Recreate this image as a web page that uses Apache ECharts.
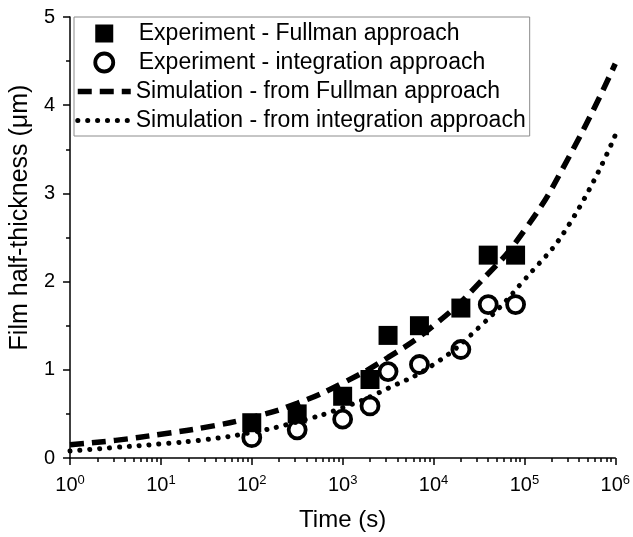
<!DOCTYPE html>
<html>
<head>
<meta charset="utf-8">
<script src="https://cdn.jsdelivr.net/npm/echarts@6/dist/echarts.min.js"></script>
<style>
html,body{margin:0;padding:0;background:#fff;}
#chart{width:633px;height:537px;}
</style>
</head>
<body>
<div id="chart"></div>
<script>
// Experimental points
var expTimes = [100, 316, 1000, 2000, 3160, 7000, 20000, 40000, 80000];
var fullmanExp = [0.40, 0.50, 0.70, 0.89, 1.39, 1.50, 1.70, 2.30, 2.30];
var integrationExp = [0.23, 0.32, 0.44, 0.59, 0.98, 1.06, 1.23, 1.74, 1.74];

// Simulation curves
var simTimes = [1, 3.16, 10, 31.6, 100, 316, 1000, 3160, 10000, 31600, 100000, 316000, 1000000];
var fullmanSim = [0.15, 0.20, 0.27, 0.35, 0.46, 0.62, 0.85, 1.14, 1.50, 1.98, 2.58, 3.43, 4.47];
var integrationSim = [0.08, 0.12, 0.16, 0.21, 0.29, 0.41, 0.57, 0.79, 1.06, 1.48, 2.02, 2.66, 3.66];

// Tick values
var minorTicks = [];
for (var d = 1; d < 1e6; d *= 10) { for (var k = 2; k <= 9; k++) minorTicks.push(d * k); }
var yTicks = [0, 1, 2, 3, 4, 5];

var seriesNames = [
  'Experiment - Fullman approach',
  'Experiment - integration approach',
  'Simulation - from Fullman approach',
  'Simulation - from integration approach'
];

function zip(xs, ys) { return xs.map(function (x, i) { return [x, ys[i]]; }); }

var FONT = '"Liberation Sans", Arial, Helvetica, sans-serif';
var hiddenSym = {color: 'rgba(0,0,0,0)', borderWidth: 0, borderColor: 'rgba(0,0,0,0)', opacity: 0};
var chart = echarts.init(document.getElementById('chart'), null, {renderer: 'canvas'});
chart.setOption({
  animation: false,
  backgroundColor: '#fff',
  grid: {left: 66.5, right: 16.5, top: 17, bottom: 78, containLabel: false},
  legend: {
    orient: 'vertical',
    left: 74, top: 17,
    padding: [5, 4, 4, 1],
    borderColor: '#8c8c8c', borderWidth: 1,
    itemWidth: 53, itemHeight: 18, itemGap: 6,
    symbolKeepAspect: true,
    textStyle: {fontFamily: FONT, fontSize: 23, color: '#000', lineHeight: 22},
    lineStyle: {width: 'inherit'},
    itemStyle: {borderWidth: 'inherit'},
    data: [
      {name: seriesNames[0], icon: 'path://M0,0h10v10h-10z', textStyle: {padding: [0, 0, 0, 3]}},
      {name: seriesNames[1], textStyle: {padding: [0, 0, 0, 3]}},
      {name: seriesNames[2], itemStyle: hiddenSym},
      {name: seriesNames[3], itemStyle: hiddenSym}
    ]
  },
  xAxis: [{
    type: 'log', logBase: 10, min: 1, max: 1e6,
    name: 'Time (s)', nameLocation: 'middle', nameGap: 50,
    nameTextStyle: {fontFamily: FONT, fontSize: 24, color: '#000'},
    axisLine: {show: true, lineStyle: {color: '#000', width: 1.5}},
    axisTick: {show: true, inside: false, length: 7, lineStyle: {color: '#000', width: 1.5}},
    splitLine: {show: false},
    axisLabel: {
      margin: 16, color: '#000', fontFamily: FONT,
      formatter: function (v) { return '{b|10}{s|' + Math.round(Math.log10(v)) + '}'; },
      rich: {
        b: {fontSize: 20, fontFamily: FONT, color: '#000'},
        s: {fontSize: 13, fontFamily: FONT, color: '#000', padding: [0, 0, 9, 0]}
      }
    }
  }, {
    type: 'log', logBase: 10, min: 1, max: 1e6, position: 'bottom', offset: 0,
    axisLine: {show: false},
    axisTick: {show: true, inside: false, length: 4, customValues: minorTicks, lineStyle: {color: '#000', width: 1.5}},
    axisLabel: {show: false},
    splitLine: {show: false}
  }],
  yAxis: {
    type: 'value', min: 0, max: 5, interval: 1,
    name: 'Film half-thickness (\u03bcm)', nameLocation: 'middle', nameGap: 27,
    nameTextStyle: {fontFamily: FONT, fontSize: 25, color: '#000', padding: [0, 0, 0, 40]},
    axisLine: {show: true, lineStyle: {color: '#000', width: 1.5}},
    axisTick: {show: true, inside: false, length: 7, lineStyle: {color: '#000', width: 1.5}},
    minorTick: {show: true, splitNumber: 2, length: 4, lineStyle: {color: '#000', width: 1.5}},
    splitLine: {show: false},
    axisLabel: {margin: 15, fontFamily: FONT, fontSize: 20, color: '#000',
      customValues: yTicks}
  },
  series: [{
    name: seriesNames[0], type: 'scatter', z: 2,
    symbol: 'rect', symbolSize: 19,
    itemStyle: {color: '#000', opacity: 1},
    data: zip(expTimes, fullmanExp)
  }, {
    name: seriesNames[1], type: 'scatter', z: 2,
    symbol: 'circle', symbolSize: 17,
    itemStyle: {color: 'rgba(255,255,255,0)', borderColor: '#000', borderWidth: 3.8, opacity: 1},
    data: zip(expTimes, integrationExp)
  }, {
    name: seriesNames[2], type: 'line', z: 3,
    smooth: true, symbol: 'none', showSymbol: false,
    lineStyle: {color: '#000', width: 5.5, type: [14, 8], cap: 'butt'},
    itemStyle: {color: '#000'},
    data: zip(simTimes, fullmanSim)
  }, {
    name: seriesNames[3], type: 'line', z: 3,
    smooth: true, symbol: 'none', showSymbol: false,
    lineStyle: {color: '#000', width: 5, type: [0.1, 9.8], cap: 'round'},
    itemStyle: {color: '#000'},
    data: zip(simTimes, integrationSim)
  }]
});
</script>
</body>
</html>
